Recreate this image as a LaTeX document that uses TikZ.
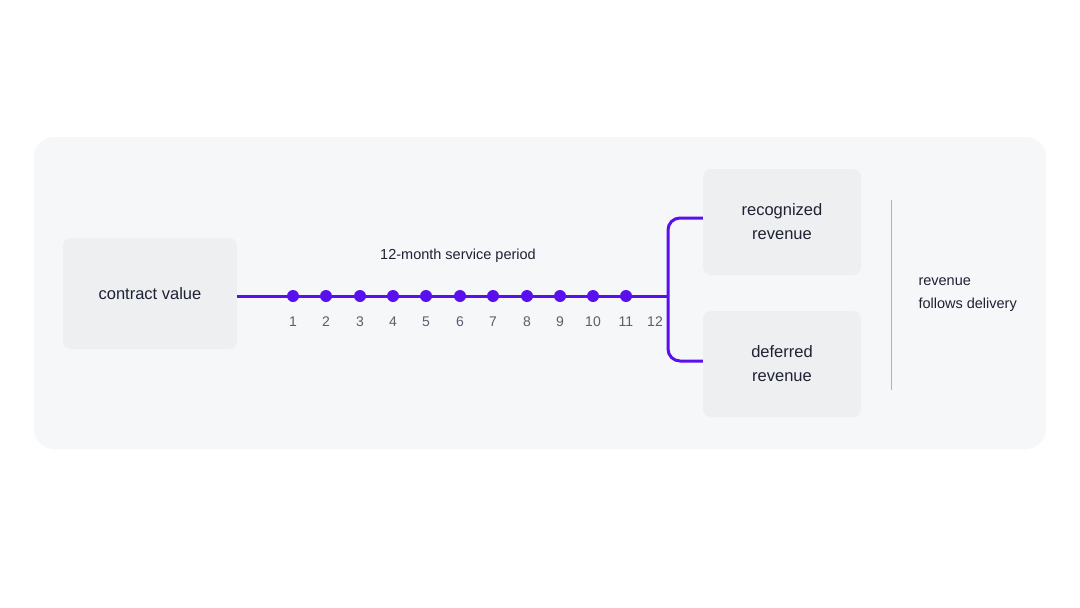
\documentclass[tikz,border=0pt]{standalone}
\usepackage{fontspec}
\setmainfont{Liberation Sans}
\definecolor{accent}{HTML}{5A10EE}
\definecolor{panelbg}{HTML}{F6F7F9}
\definecolor{boxbg}{HTML}{EEEFF1}
\definecolor{ink}{HTML}{1E2233}
\definecolor{muted}{HTML}{5A5F6E}
\begin{document}
\begin{tikzpicture}[x=1pt,y=-1pt]
\tikzset{
  card/.style={fill=boxbg,rounded corners=8pt,align=center,text=ink,font=\fontsize{16.5}{24}\selectfont},
  tl/.style={->,>=stealth'},
  month/.style={text=muted,font=\fontsize{14}{16}\selectfont},
  tick/.style={circle,fill=accent,inner sep=0pt,minimum size=12pt},
  flow/.style={accent,line width=3pt,rounded corners=12pt}
}
\useasboundingbox[fill=white] (0,0) rectangle (1080,608);
\fill[panelbg,rounded corners=20pt] (34,137) rectangle (1046,449);

\node[card,minimum width=174pt,minimum height=111pt] (contract) at (150,293.5) {contract value};
\node[card,minimum width=158pt,minimum height=106pt] (recog) at (782,222) {recognized\\revenue};
\node[card,minimum width=158pt,minimum height=106pt] (defer) at (782,364) {deferred\\revenue};

\coordinate (fork) at (668,296);
\draw[accent,line width=3pt] (contract.east |- fork) -- (fork);
\foreach \m [count=\i] in {293,326,360,393,426,460,493,527,560,593,626} {
  \node[tick] (d\i) at (\m,296) {};
  \node[month] at (\m,322) {\i};
}
\node[month] (m12) at (655,322) {12};
\node[text=ink,font=\fontsize{14.5}{16}\selectfont] (period) at (458,256) {12-month service period};

\draw[flow] (fork) -- (668,218) -- (recog.west |- 0,218);
\draw[flow] (fork) -- (668,361) -- (defer.west |- 0,361);

\draw[black!30,line width=1pt] (891,200) -- (891,390);
\node[align=left,anchor=west,text=ink,font=\fontsize{14.5}{23}\selectfont] (note) at (915,295) {revenue\\follows delivery};
\end{tikzpicture}
\end{document}
